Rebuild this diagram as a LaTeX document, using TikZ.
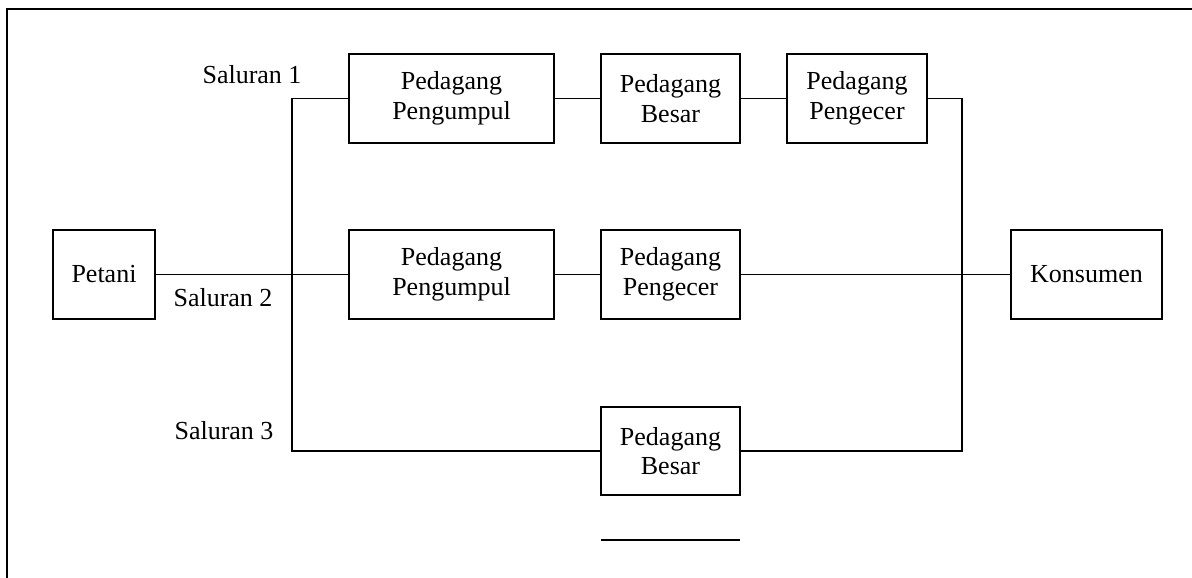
\documentclass[tikz,border=0pt]{standalone}
\usepackage{fontspec}
\setmainfont{Liberation Serif}
\begin{document}
\begin{tikzpicture}[x=1pt,y=-1pt,
  every path/.style={line width=1.1pt},
  box/.style={draw,line width=1.1pt,rectangle,inner sep=0pt,outer sep=0pt,align=center,
    font=\fontsize{26}{29.5}\selectfont},
  lbl/.style={anchor=base west,inner sep=0pt,font=\fontsize{26}{29.5}\selectfont},
  conn/.style={draw,line width=1.1pt}]
\useasboundingbox (0,0) rectangle (1192,578);
% frame
\coordinate (f1) at (7,578);
\coordinate (f2) at (7,9);
\coordinate (f3) at (1192,9);
\draw (f1) -- (f2) -- (f3);
% boxes
\node[box,minimum width=102pt,minimum height=89pt] (petani) at (104,274.5) {Petani};
\node[box,minimum width=205pt,minimum height=89pt] (pp1) at (451.5,98.5) {Pedagang\\Pengumpul};
\node[box,minimum width=139pt,minimum height=89pt] (pb1) at (670.5,98.5) {Pedagang\\Besar};
\node[box,minimum width=140pt,minimum height=89pt] (pe1) at (857,98.5) {Pedagang\\Pengecer};
\node[box,minimum width=205pt,minimum height=89pt] (pp2) at (451.5,274.5) {Pedagang\\Pengumpul};
\node[box,minimum width=139pt,minimum height=89pt] (pe2) at (670.5,274.5) {Pedagang\\Pengecer};
\node[box,minimum width=151pt,minimum height=89pt] (kons) at (1086.5,274.5) {Konsumen};
\node[box,minimum width=139pt,minimum height=88pt] (pb3) at (670.5,451) {Pedagang\\Besar};
% labels
\node[lbl] (l1) at (202,84) {Saluran 1};
\node[lbl] (l2) at (173,306) {Saluran 2};
\node[lbl] (l3) at (174,439) {Saluran 3};
% junctions
\coordinate (s1) at (292,98.5);
\coordinate (s3) at (292,451);
\coordinate (k1) at (962,98.5);
\coordinate (k3) at (962,451);
% connectors
\draw[conn] (pp1.west) -- (s1) -- (s3) -- (pb3.west);
\draw[conn] (petani.east) -- (pp2.west);
\draw[conn] (pp1.east) -- (pb1.west);
\draw[conn] (pb1.east) -- (pe1.west);
\draw[conn] (pe1.east) -- (k1) -- (k3) -- (pb3.east);
\draw[conn] (pp2.east) -- (pe2.west);
\draw[conn] (pe2.east) -- (kons.west);
% bottom line
\coordinate (b1) at (601,540);
\coordinate (b2) at (740,540);
\draw[conn] (b1) -- (b2);
\end{tikzpicture}
\end{document}
